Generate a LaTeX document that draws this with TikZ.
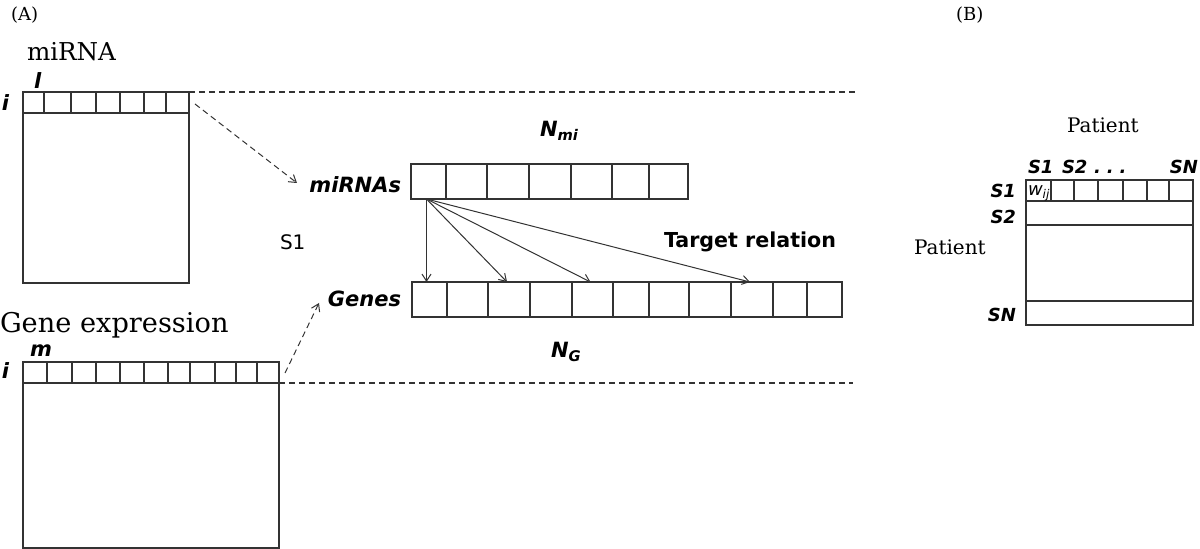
\documentclass[tikz,border=0pt]{standalone}
\usepackage{fontspec}
\setmainfont{DejaVu Serif}
\setsansfont{DejaVu Sans}
\usetikzlibrary{fit,arrows.meta,calc}
\tikzset{
  ln/.style={draw=black!80, line width=0.6pt},
  cell/.style={ln, rectangle, inner sep=0pt, outer sep=0pt},
  dsh/.style={draw=black!80, line width=0.55pt, dash pattern=on 3pt off 2pt},
  arr/.style={ln, line width=0.5pt, -{Straight Barb[length=3.5pt,width=4.5pt]}},
  darr/.style={dsh, line width=0.5pt, -{Straight Barb[length=3.5pt,width=4.5pt]}},
  txt/.style={inner sep=0pt, outer sep=0pt},
  bi/.style={txt, font=\sffamily\bfseries\itshape\fontsize{10.5}{12}\selectfont},
  bis/.style={txt, font=\sffamily\bfseries\itshape\fontsize{9}{10}\selectfont},
  serifbig/.style={txt, font=\fontsize{12.3}{15}\selectfont},
  serifmid/.style={txt, font=\fontsize{10}{12}\selectfont},
  serifsmall/.style={txt, font=\fontsize{9}{11}\selectfont},
}
\begin{document}
\begin{tikzpicture}[x=0.5pt,y=-0.5pt]
\useasboundingbox (0,0) rectangle (1200,549);

% ---------- Panel A ----------
\node[serifsmall, anchor=base west] (labA) at (11,21) {(A)};

% miRNA matrix
\node[serifbig, anchor=base west] (miRNAtitle) at (27,61) {miRNA};
\node[bi, anchor=base west] (lbll) at (34,89) {l};
\node[bi, anchor=base west] (lbli1) at (2,111) {i};
\foreach \a/\b [count=\k] in {23/44,44/71,71/96,96/120,120/144,144/166,166/189}
  \node[cell, fit={(\a,92)(\b,113)}] (mc\k) {};
\node[cell, fit={(23,113)(189,283)}] (mbody) {};

% gene expression matrix
\node[txt, anchor=base west, font=\fontsize{13.6}{16}\selectfont] (geneTitle) at (0,333) {Gene expression};
\node[bi, anchor=base west] (lblm) at (30,357) {m};
\node[bi, anchor=base west] (lbli2) at (2,379) {i};
\foreach \a/\b [count=\k] in {23/47,47/72,72/96,96/120,120/144,144/168,168/190,190/215,215/236,236/257,257/279}
  \node[cell, fit={(\a,362)(\b,383)}] (gc\k) {};
\node[cell, fit={(23,383)(279,548)}] (gbody) {};

% dashed guide lines
\coordinate (topEnd) at (855,92);
\coordinate (botEnd) at (853,383);
\draw[dsh] (mc7.north east) -- (topEnd);
\draw[dsh] (gc11.south east) -- (botEnd);

% miRNAs row
\node[bi, anchor=base east] (lblmirnas) at (401,193) {miRNAs};
\foreach \a/\b [count=\k] in {411/446,446/487,487/529,529/571,571/612,612/649,649/688}
  \node[cell, fit={(\a,164)(\b,199)}] (m\k) {};
\node[bi, anchor=base west] (Nmi) at (540,137) {N\textsubscript{mi}};

% genes row
\node[bi, anchor=base east] (lblgenes) at (401,307) {Genes};
\foreach \a/\b [count=\k] in {412/447,447/488,488/530,530/572,572/613,613/649,649/689,689/731,731/773,773/807,807/842}
  \node[cell, fit={(\a,282)(\b,317)}] (g\k) {};
\node[bi, anchor=base west] (NG) at (551,358) {N\textsubscript{G}};

\node[txt, anchor=base west, font=\sffamily\fontsize{10}{12}\selectfont] (S1lbl) at (280,250) {S1};
\node[txt, anchor=base west, font=\sffamily\bfseries\fontsize{10.3}{12}\selectfont] (target) at (664,248) {Target relation};

% dashed arrows
\coordinate (d1s) at (195,104);
\coordinate (d1e) at (297,183);
\coordinate (d2s) at (285,373);
\coordinate (d2e) at (319,303);
\draw[darr] (d1s) -- (d1e);
\draw[darr] (d2s) -- (d2e);

% target arrows
\coordinate (src) at ($(m1.south)+(-2,0)$);
\draw[arr] (src) -- (g1.north -| src);
\draw[arr] (src) -- ($(g3.north)+(-2,0)$);
\draw[arr] (src) -- ($(g5.north)+(-2,0)$);
\draw[arr] (src) -- ($(g9.north)+(-2,0)$);

% ---------- Panel B ----------
\node[serifsmall, anchor=base west] (labB) at (956,21) {(B)};
\node[serifmid, anchor=base west] (patTop) at (1067,133) {Patient};
\node[serifmid, anchor=base west] (patLeft) at (914,255) {Patient};

\node[bis, anchor=base west] (cS1) at (1028,174) {S1};
\node[bis, anchor=base west] (cS2) at (1062,174) {S2};
\node[bis, anchor=base west] (cdots) at (1094,174) {.\,\,.\,\,.};
\node[bis, anchor=base east] (cSN) at (1198,174) {SN};

\node[bis, anchor=base east] (rS1) at (1016,198) {S1};
\node[bis, anchor=base east] (rS2) at (1016,224) {S2};
\node[bis, anchor=base east] (rSN) at (1016,322) {SN};

\foreach \a/\b [count=\k] in {1026/1051,1051/1074,1074/1098,1098/1123,1123/1147,1147/1169,1169/1193}
  \node[cell, fit={(\a,180)(\b,201)}] (pc\k) {};
\node[cell, fit={(1026,201)(1193,225)}] (prow2) {};
\node[cell, fit={(1026,225)(1193,301)}] (pmid) {};
\node[cell, fit={(1026,301)(1193,325)}] (prowN) {};
\node[txt, anchor=base west, font=\sffamily\itshape\fontsize{9}{10}\selectfont] (wij) at (1028,196) {w\textsubscript{ij}};
\end{tikzpicture}
\end{document}
